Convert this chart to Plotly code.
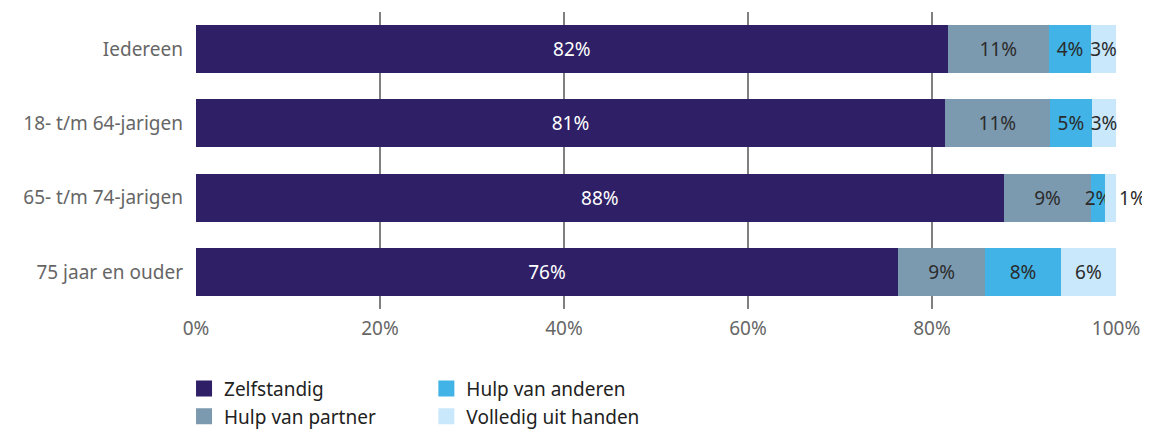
import plotly.graph_objects as go

categories = ["Iedereen", "18- t/m 64-jarigen", "65- t/m 74-jarigen", "75 jaar en ouder"]
zelfstandig = [81.7, 81.4, 87.8, 76.3]
hulp_partner = [11.0, 11.4, 9.5, 9.5]
hulp_anderen = [4.6, 4.6, 1.5, 8.2]
volledig = [2.7, 2.6, 1.2, 6.0]

labels_zelf = ["82%", "81%", "88%", "76%"]
labels_partner = ["11%", "11%", "9%", "9%"]
labels_anderen = ["4%", "5%", "2%", "8%"]
labels_volledig = ["3%", "3%", "1%", "6%"]

series = [
    ("Zelfstandig", zelfstandig, labels_zelf, "#2e1f66", "#ffffff", "legend"),
    ("Hulp van partner", hulp_partner, labels_partner, "#7b99af", "#2b2b2b", "legend"),
    ("Hulp van anderen", hulp_anderen, labels_anderen, "#41b3e6", "#2b2b2b", "legend2"),
    ("Volledig uit handen", volledig, labels_volledig, "#c9e8fb", "#2b2b2b", "legend2"),
]

FONT = "Noto Sans"
FS = 19
fig = go.Figure()
for name, vals, labs, color, tcolor, lg in series:
    if name == "Volledig uit handen":
        pos = ["inside" if v >= 2 else "outside" for v in vals]
    else:
        pos = "inside"
    fig.add_trace(go.Bar(
        y=categories, x=vals, orientation="h", name=name,
        marker=dict(color=color, line=dict(width=0)),
        text=labs, textposition=pos, insidetextanchor="middle", textangle=0,
        textfont=dict(color=tcolor, size=FS, family=FONT),
        outsidetextfont=dict(color="#2b2b2b", size=FS, family=FONT),
        constraintext="none", cliponaxis=False,
        showlegend=False, hoverinfo="skip",
    ))

for name, vals, labs, color, tcolor, lg in series:
    fig.add_trace(go.Scatter(
        x=[None], y=[None], mode="markers", name=name,
        marker=dict(symbol="square", size=19, color=color),
        legend=lg, showlegend=True,
    ))

legend_common = dict(
    yref="container", y=0.145, yanchor="top",
    orientation="v", itemsizing="trace", tracegroupgap=0, traceorder="normal",
    font=dict(size=FS, color="#222222", family=FONT),
    bgcolor="rgba(0,0,0,0)",
)

fig.update_layout(
    width=1142, height=423,
    barmode="stack", bargap=0.354,
    plot_bgcolor="white", paper_bgcolor="white",
    margin=dict(l=188, r=34, t=4, b=122),
    font=dict(family=FONT, size=FS, color="#666666"),
    xaxis=dict(
        range=[0, 100], tickvals=[0, 20, 40, 60, 80, 100],
        ticktext=["0%", "20%", "40%", "60%", "80%", "100%"],
        showgrid=True, gridcolor="#808080", gridwidth=1.5,
        zeroline=False, showline=False, ticks="", ticklabelstandoff=6,
        tickfont=dict(size=FS, color="#666666"),
    ),
    yaxis=dict(
        categoryorder="array", categoryarray=categories, autorange="reversed",
        showgrid=False, zeroline=False, ticks="", ticklabelstandoff=12,
        tickfont=dict(size=FS, color="#666666"),
    ),
    legend=dict(x=-0.013, xanchor="left", **legend_common),
    legend2=dict(x=0.2504, xanchor="left", **legend_common),
)

fig.write_html("out.html")
